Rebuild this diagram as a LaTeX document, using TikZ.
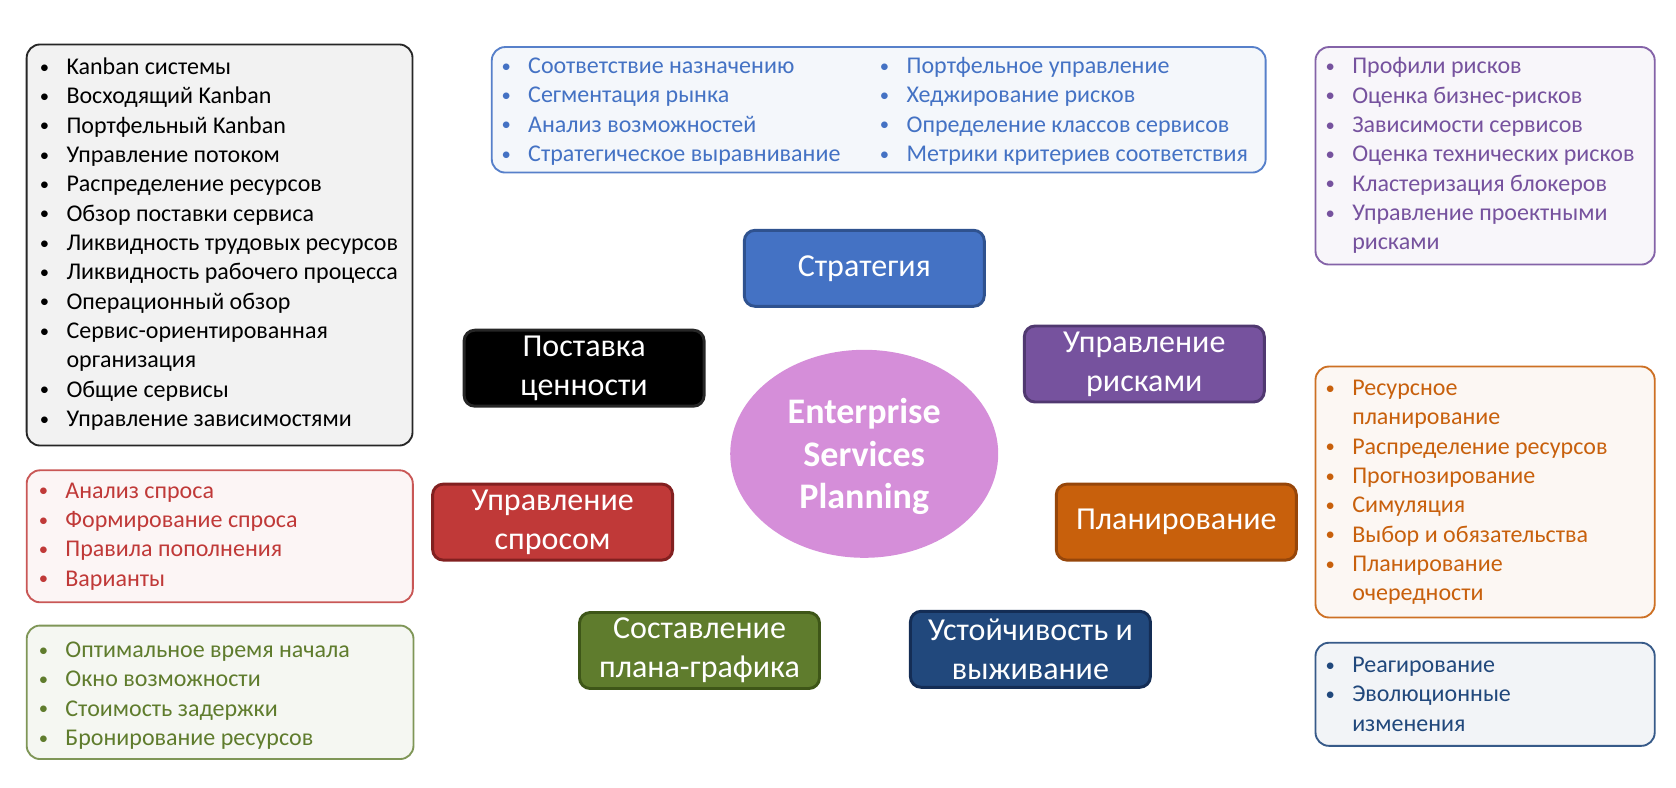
\documentclass[tikz,border=0pt]{standalone}
\definecolor{stratblue}{RGB}{68,114,196}
\definecolor{stratedge}{RGB}{47,82,143}
\definecolor{riskpurple}{RGB}{118,82,158}
\definecolor{riskedge}{RGB}{80,56,112}
\definecolor{demandred}{RGB}{192,57,56}
\definecolor{demandedge}{RGB}{130,32,32}
\definecolor{planorange}{RGB}{200,96,12}
\definecolor{planedge}{RGB}{150,70,10}
\definecolor{schedgreen}{RGB}{95,124,45}
\definecolor{schededge}{RGB}{62,86,24}
\definecolor{survnavy}{RGB}{33,72,124}
\definecolor{survedge}{RGB}{20,45,85}
\definecolor{centerpink}{RGB}{213,142,217}
\usepackage{fontspec}
\setmainfont{Carlito}
\usepackage{tikz}
\usetikzlibrary{shapes,positioning,calc}

\newcommand{\li}[1]{\makebox[20pt][l]{\fontsize{14}{14}\selectfont\raisebox{1pt}{•}}#1}
\newcommand{\lc}[1]{\hspace*{20pt}#1}

\begin{document}
\begin{tikzpicture}[x=0.75pt, y=-0.75pt,
    listbox/.style 2 args={rectangle, rounded corners=10pt, line width=1.4pt, draw=#1, fill=#2, inner sep=0pt},
    listtext/.style={anchor=base west, inner sep=0pt, align=left, text=#1, font=\fontsize{18}{22}\selectfont},
    catbox/.style 2 args={rectangle, rounded corners=8pt, line width=2.2pt, fill=#1, draw=#2, text=white,
        minimum width=180pt, minimum height=57pt, align=center, font=\fontsize{24}{29}\selectfont}]
    \useasboundingbox (0,0) rectangle (1676,788);

    % Centre and the seven areas
    \node[ellipse, fill=centerpink, minimum width=201pt, minimum height=156pt, text=white, align=center,
        font=\bfseries\fontsize{27}{31.7}\selectfont] (esp) at (864.2,453.8) {\rule{0pt}{23pt}Enterprise\\Services\\Planning};
    \node[catbox={stratblue}{stratedge}] (strategy) at (864.3,268.3) {Стратегия};
    \node[catbox={black}{black!85}] (delivery) at (584.1,368.2) {Поставка\\ценности};
    \node[catbox={riskpurple}{riskedge}] (risk) at (1144.3,364) {Управление\\рисками};
    \node[catbox={demandred}{demandedge}] (demand) at (552.6,522.1) {Управление\\спросом};
    \node[catbox={planorange}{planedge}] (planning) at (1176.3,522.1) {Планирование};
    \node[catbox={schedgreen}{schededge}] (schedule) at (699.5,650.5) {Составление\\плана-графика};
    \node[catbox={survnavy}{survedge}] (survival) at (1030.4,649.3) {Устойчивость и\\выживание};

    % Side lists (text nodes sit on the baseline of their last line)
    \node[listbox={black!85}{black!5}, minimum width=289.4pt, minimum height=300.8pt] (deliverybox) at (219.6,245) {};
    \node[listtext=black] (deliverylist) at (39.6,426.5) {\li{Kanban системы}\\ \li{Восходящий Kanban}\\
        \li{Портфельный Kanban}\\ \li{Управление потоком}\\ \li{Распределение ресурсов}\\
        \li{Обзор поставки сервиса}\\ \li{Ликвидность трудовых ресурсов}\\ \li{Ликвидность рабочего процесса}\\
        \li{Операционный обзор}\\ \li{Сервис-ориентированная}\\ \lc{организация}\\ \li{Общие сервисы}\\
        \li{Управление зависимостями}};

    \node[listbox={stratblue!90}{stratblue!6}, minimum width=580.4pt, minimum height=94.1pt] (strategybox) at (878.7,109.8) {};
    \node[listtext=stratblue] (strategylist) at (501.3,161.5) {\li{Соответствие назначению}\\ \li{Сегментация рынка}\\
        \li{Анализ возможностей}\\ \li{Стратегическое выравнивание}};
    \node[listtext=stratblue] (strategylist2) at (879.7,161.5) {\li{Портфельное управление}\\ \li{Хеджирование рисков}\\
        \li{Определение классов сервисов}\\ \li{Метрики критериев соответствия}};

    \node[listbox={riskpurple!90}{riskpurple!5}, minimum width=254.4pt, minimum height=163.1pt] (riskbox) at (1485.1,155.8) {};
    \node[listtext=riskpurple] (risklist) at (1325.3,249.8) {\li{Профили рисков}\\ \li{Оценка бизнес-рисков}\\
        \li{Зависимости сервисов}\\ \li{Оценка технических рисков}\\ \li{Кластеризация блокеров}\\
        \li{Управление проектными}\\ \lc{рисками}};

    \node[listbox={planorange!90}{planorange!5}, minimum width=254.4pt, minimum height=188.2pt] (planningbox) at (1485.1,492) {};
    \node[listtext=planorange] (planninglist) at (1325.3,600.8) {\li{Ресурсное}\\ \lc{планирование}\\
        \li{Распределение ресурсов}\\ \li{Прогнозирование}\\ \li{Симуляция}\\ \li{Выбор и обязательства}\\
        \li{Планирование}\\ \lc{очередности}};

    \node[listbox={survnavy!90}{survnavy!6}, minimum width=254.4pt, minimum height=77.3pt] (survivalbox) at (1485.1,694.3) {};
    \node[listtext=survnavy] (survivallist) at (1325.3,731.1) {\li{Реагирование}\\ \li{Эволюционные}\\ \lc{изменения}};

    \node[listbox={demandred!85}{demandred!5}, minimum width=289.6pt, minimum height=99pt] (demandbox) at (219.75,536.3) {};
    \node[listtext=demandred] (demandlist) at (38.5,586.1) {\li{Анализ спроса}\\ \li{Формирование спроса}\\
        \li{Правила пополнения}\\ \li{Варианты}};

    \node[listbox={schedgreen!80}{schedgreen!6}, minimum width=290.1pt, minimum height=100.1pt] (schedulebox) at (220.1,692.3) {};
    \node[listtext=schedgreen] (schedulelist) at (38.5,745.4) {\li{Оптимальное время начала}\\ \li{Окно возможности}\\
        \li{Стоимость задержки}\\ \li{Бронирование ресурсов}};
\end{tikzpicture}
\end{document}
